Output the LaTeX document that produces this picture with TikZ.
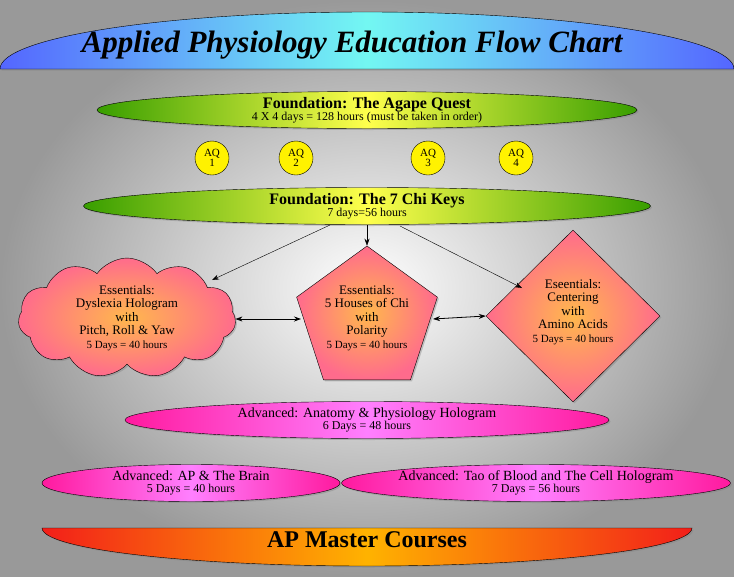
\documentclass[tikz,border=0pt]{standalone}
\usepackage{fontspec}
\setmainfont{Liberation Serif}
\usetikzlibrary{shapes.geometric,shapes.symbols,shadows,arrows.meta}
\definecolor{gblue}{rgb}{0.33,0.4,1}
\definecolor{gcyan}{rgb}{0.45,0.97,0.95}
\definecolor{ggreen}{rgb}{0.22,0.62,0}
\definecolor{gyel}{rgb}{1,1,0.3}
\definecolor{gmag}{rgb}{1,0.1,0.62}
\definecolor{gpink}{rgb}{1,0.5,1}
\definecolor{ess}{rgb}{1,0.42,0.55}
\definecolor{essc}{rgb}{1,0.72,0.3}
\definecolor{mred}{rgb}{0.95,0.12,0.1}
\definecolor{morange}{rgb}{1,0.7,0}
\tikzset{
 sh/.style={drop shadow={shadow xshift=1.5pt,shadow yshift=-1.5pt,opacity=0.4}},
 greenov/.style={ellipse,draw=black,sh,left color=ggreen,right color=ggreen,middle color=gyel,minimum width=540pt,minimum height=37pt,inner sep=0pt,align=center},
 pinkov/.style={ellipse,draw=black,sh,left color=gmag,right color=gmag,middle color=gpink,minimum height=37pt,inner sep=0pt,align=center},
 essbox/.style={draw=black,sh,inner color=essc,outer color=ess,align=center,font=\fontsize{13}{13.5}\selectfont},
 aq/.style={circle,draw=black,fill=yellow,minimum size=34pt,inner sep=0pt,align=center,font=\fontsize{11}{10}\selectfont},
 arr/.style={-{Stealth[length=7pt,width=5pt]},black},
 darr/.style={{Stealth[length=7pt,width=5pt]}-{Stealth[length=7pt,width=5pt]},black,thick}
}
\begin{document}
\begin{tikzpicture}[x=1pt,y=-1pt]
\shade[inner color=white,outer color=black!40] (0,0) rectangle (734,576);
\useasboundingbox (0,0) rectangle (734,576);
% title arch
\draw[sh,left color=gblue,right color=gblue,middle color=gcyan] (0,69) arc[start angle=180,end angle=0,x radius=367pt,y radius=57pt] -- cycle;
\node (title) at (352,45) {\fontsize{31}{32}\selectfont\bfseries\itshape Applied Physiology Education Flow Chart};
% master arch
\draw[sh,left color=mred,right color=mred,middle color=morange] (42,528) -- (692,528) arc[start angle=0,end angle=-180,x radius=325pt,y radius=38pt] -- cycle;
\node (master) at (367,540) {\fontsize{24}{24}\selectfont\bfseries AP Master Courses};
\node[greenov] (agape) at (367,110) {{\fontsize{16}{17}\selectfont\bfseries Foundation: The Agape Quest}\\{\fontsize{12}{12}\selectfont 4 X 4 days = 128 hours (must be taken in order)}};
\node[aq] (aq1) at (212,158) {AQ\\1};
\node[aq] (aq2) at (296,158) {AQ\\2};
\node[aq] (aq3) at (428,158) {AQ\\3};
\node[aq] (aq4) at (516,158) {AQ\\4};
\node[greenov,minimum width=567pt] (chi) at (367,206) {{\fontsize{16}{17}\selectfont\bfseries Foundation: The 7 Chi Keys}\\{\fontsize{12}{12}\selectfont 7 days=56 hours}};
\node[essbox,cloud,cloud puffs=11,cloud puff arc=110,aspect=2.3,minimum width=215pt,minimum height=85pt,inner sep=0pt] (cloud) at (127,318) {Essentials:\\Dyslexia Hologram\\with\\Pitch, Roll \& Yaw\\{\fontsize{11}{12}\selectfont 5 Days = 40 hours}};
\node[essbox,regular polygon,regular polygon sides=5,minimum size=148pt,inner sep=0pt] (pent) at (367,320) {};
\node[align=center,font=\fontsize{13}{13.5}\selectfont] (pentt) at (367,318) {Essentials:\\5 Houses of Chi\\with\\Polarity\\{\fontsize{11}{12}\selectfont 5 Days = 40 hours}};
\node[essbox,diamond,minimum width=174pt,minimum height=172pt,inner sep=0pt] (dia) at (573,316) {};
\node[align=center,font=\fontsize{13}{13.5}\selectfont] (diat) at (573,312) {Eseentials:\\Centering\\with\\Amino Acids\\{\fontsize{11}{12}\selectfont 5 Days = 40 hours}};
\coordinate (c1) at (330,225);
\coordinate (c2) at (367,225);
\coordinate (c3) at (400,226);
\draw[arr] (c1) -- (212,280);
\draw[arr] (c2) -- (pent.north);
\draw[arr] (c3) -- (522,288);
\draw[darr] (cloud.east |- 0,319) -- (301,319);
\draw[darr] (433,319) -- (dia.west);
\node[pinkov,minimum width=484pt] (ap) at (367,420) {{\fontsize{14}{14}\selectfont Advanced: Anatomy \& Physiology Hologram}\\{\fontsize{12}{12}\selectfont 6 Days = 48 hours}};
\node[pinkov,minimum width=298pt] (brain) at (191,483) {{\fontsize{14}{14}\selectfont Advanced: AP \& The Brain}\\{\fontsize{12}{12}\selectfont 5 Days = 40 hours}};
\node[pinkov,minimum width=364pt] (tao) at (536,483) {{\fontsize{14}{14}\selectfont Advanced: Tao of Blood and The Cell Hologram}\\{\fontsize{12}{12}\selectfont 7 Days = 56 hours}};
\end{tikzpicture}
\end{document}
